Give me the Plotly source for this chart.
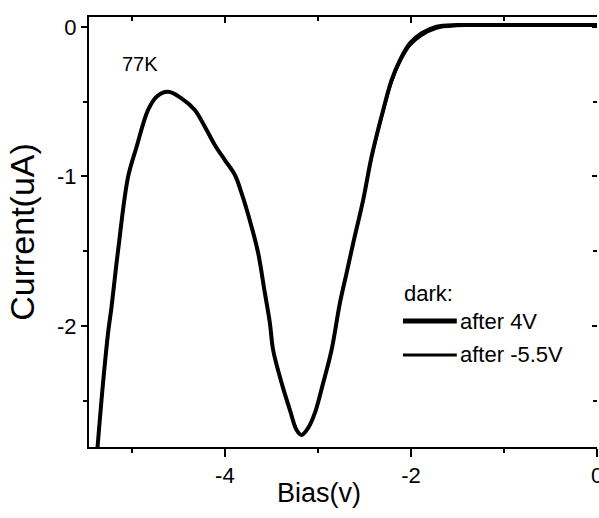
import plotly.graph_objects as go

# Dark I-V sweep at 77K: bias (V) vs current (uA)
bias_v = [-5.38, -5.309, -5.255, -5.218, -5.147, -5.040, -4.949, -4.825, -4.734,
          -4.610, -4.466, -4.323, -4.215, -4.108, -4.000, -3.892, -3.820, -3.713,
          -3.642, -3.570, -3.516, -3.481, -3.390, -3.301, -3.229, -3.175, -3.104,
          -3.032, -2.943, -2.853, -2.763, -2.691, -2.620, -2.513, -2.423, -2.298,
          -2.208, -2.118, -2.011, -1.885, -1.724, -1.509, -1.20, -0.80, -0.40, 0.0]

current_after_4v = [-2.90, -2.381, -2.047, -1.873, -1.492, -1.003, -0.803, -0.555, -0.466,
                    -0.433, -0.477, -0.555, -0.667, -0.789, -0.890, -0.990, -1.112, -1.336,
                    -1.512, -1.779, -1.980, -2.161, -2.381, -2.562, -2.696, -2.729, -2.682,
                    -2.582, -2.381, -2.161, -1.846, -1.645, -1.445, -1.157, -0.868, -0.555,
                    -0.355, -0.221, -0.109, -0.042, 0.002, 0.013, 0.013, 0.013, 0.013, 0.013]

current_after_m55v = [-2.90, -2.381, -2.047, -1.873, -1.492, -1.003, -0.803, -0.555, -0.466,
                      -0.433, -0.477, -0.555, -0.667, -0.789, -0.890, -0.990, -1.112, -1.336,
                      -1.512, -1.779, -1.980, -2.161, -2.381, -2.562, -2.696, -2.729, -2.682,
                      -2.582, -2.381, -2.161, -1.846, -1.645, -1.445, -1.157, -0.875, -0.570,
                      -0.372, -0.236, -0.125, -0.058, -0.010, 0.006, 0.010, 0.012, 0.013, 0.013]

series_names = ["after 4V", "after -5.5V"]
series_widths = [4, 2.5]

x_tick_vals = [-4, -2, 0]
x_tick_text = ["-4", "-2", "0"]
x_minor_vals = [-5, -3, -1]
y_tick_vals = [0, -1, -2]
y_tick_text = ["0", "-1", "-2"]
y_minor_vals = [-0.5, -1.5, -2.5]

X_RANGE = [-5.46, 0.0]
Y_RANGE = [-2.81, 0.067]
FONT = "Arial, Liberation Sans, sans-serif"

fig = go.Figure()
for ys, name, w in zip([current_after_4v, current_after_m55v], series_names, series_widths):
    fig.add_trace(go.Scatter(x=bias_v, y=ys, mode="lines", name=name, showlegend=False,
                             line=dict(color="black", width=w, shape="spline", smoothing=1.0)))

# empty trace that binds the top/right frame axes to a subplot
fig.add_trace(go.Scatter(x=[], y=[], xaxis="x2", yaxis="y2", showlegend=False,
                         hoverinfo="skip"))

# Hand-placed legend block: heading, two key lines and their labels
fig.add_annotation(xref="paper", yref="paper", x=0.616, y=0.358, xanchor="left",
                   yanchor="middle", text="dark:", showarrow=False,
                   font=dict(family=FONT, size=22, color="black"))
for (name, w, ky) in zip(series_names, [5, 3], [0.293, 0.214]):
    fig.add_shape(type="line", xref="paper", yref="paper", x0=0.618, x1=0.724,
                  y0=ky, y1=ky, line=dict(color="black", width=w))
    fig.add_annotation(xref="paper", yref="paper", x=0.726, y=ky, xanchor="left",
                       yanchor="middle", text=name, showarrow=False,
                       font=dict(family=FONT, size=22, color="black"))

fig.add_annotation(x=-4.914, y=-0.25, text="77K", showarrow=False,
                   font=dict(family=FONT, size=20, color="black"))
fig.add_annotation(xref="paper", yref="paper", x=(319 - 89) / 508, y=-0.107,
                   text="Bias(v)", showarrow=False, yanchor="middle",
                   font=dict(family=FONT, size=27, color="black"))

fig.update_layout(
    width=599, height=518,
    margin=dict(l=89, r=2, t=17, b=71),
    paper_bgcolor="white", plot_bgcolor="white",
    font=dict(family=FONT, size=22, color="black"),
    showlegend=False,
    xaxis=dict(range=X_RANGE, showgrid=False, zeroline=False, automargin=False,
               showline=True, linecolor="black", linewidth=2,
               ticks="outside", ticklen=8, tickwidth=1.5, tickcolor="black",
               tickvals=x_tick_vals, ticktext=x_tick_text, ticklabeloverflow="allow",
               minor=dict(tickvals=x_minor_vals, ticks="outside", ticklen=4,
                          tickwidth=1.5, tickcolor="black")),
    yaxis=dict(range=Y_RANGE, showgrid=False, zeroline=False, automargin=False,
               showline=True, linecolor="black", linewidth=2,
               ticks="outside", ticklen=6, tickwidth=1.5, tickcolor="black",
               tickvals=y_tick_vals, ticktext=y_tick_text,
               minor=dict(tickvals=y_minor_vals, ticks="outside", ticklen=4,
                          tickwidth=1.5, tickcolor="black"),
               title=dict(text="Current(uA)", font=dict(family=FONT, size=34), standoff=12)),
    xaxis2=dict(overlaying="x", side="top", range=X_RANGE, automargin=False,
                showgrid=False, zeroline=False, showline=True, linecolor="black",
                linewidth=1.5, ticks="inside", ticklen=6, tickwidth=1.5,
                tickcolor="black", tickvals=x_tick_vals, showticklabels=False,
                minor=dict(tickvals=x_minor_vals, ticks="inside", ticklen=4,
                           tickwidth=1.5, tickcolor="black")),
    yaxis2=dict(overlaying="y", side="right", range=Y_RANGE, automargin=False,
                showgrid=False, zeroline=False, showline=False,
                ticks="inside", ticklen=5, tickwidth=1.5, tickcolor="black",
                tickvals=y_tick_vals, showticklabels=False,
                minor=dict(tickvals=y_minor_vals, ticks="inside", ticklen=4,
                           tickwidth=1.5, tickcolor="black")),
)

fig.write_html("out.html")
